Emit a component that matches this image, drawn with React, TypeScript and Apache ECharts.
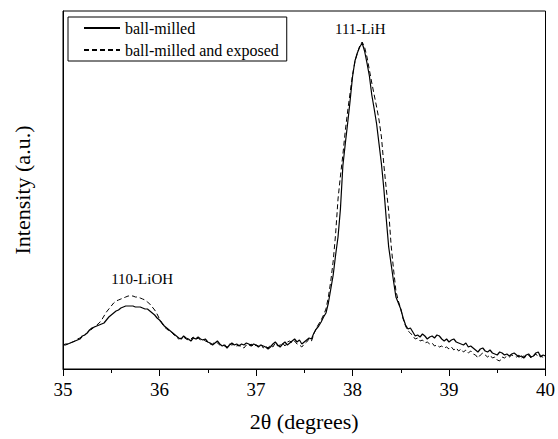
import React, { useEffect, useRef } from "react";
import * as echarts from "echarts";

// Scan grid: 2θ from 35° to 40° in 0.025° steps
const SCAN_START = 35;
const SCAN_STEP = 0.025;

// Intensity (a.u.) — as-milled sample
const ballMilled = [
  24, 24, 25, 26, 27, 28, 29, 30, 33, 34,
  36, 39, 41, 42, 43, 44, 45, 46, 49, 52,
  54, 56, 58, 59, 61, 62, 63, 63, 63, 63,
  62, 62, 62, 61, 60, 60, 58, 56, 54, 51,
  49, 46, 43, 41, 39, 37, 35, 33, 31, 30,
  33, 31, 30, 28, 31, 30, 32, 30, 29, 30,
  27, 26, 24, 26, 28, 25, 23, 24, 21, 24,
  26, 24, 25, 23, 25, 24, 26, 25, 23, 25,
  24, 22, 24, 23, 22, 20, 22, 25, 27, 24,
  22, 25, 27, 24, 26, 28, 30, 27, 29, 25,
  27, 29, 31, 30, 36, 40, 43, 47, 52, 56,
  66, 80, 94, 114, 132, 160, 203, 225, 246, 268,
  292, 308, 316, 322, 326, 318, 306, 293, 274, 260,
  245, 225, 205, 180, 150, 122, 105, 88, 72, 66,
  60, 51, 44, 40, 41, 37, 33, 34, 32, 35,
  33, 30, 32, 33, 31, 34, 33, 30, 28, 30,
  27, 29, 30, 27, 26, 25, 24, 26, 22, 23,
  21, 19, 17, 20, 21, 18, 17, 19, 16, 15,
  14, 17, 16, 14, 15, 13, 15, 16, 14, 12,
  13, 11, 14, 15, 12, 13, 16, 17, 12, 14,
  13,
];

// Intensity (a.u.) — milled then exposed
const ballMilledExposed = [
  24, 25, 25, 26, 27, 28, 30, 31, 32, 34,
  36, 38, 40, 42, 44, 46, 49, 53, 57, 60,
  63, 66, 68, 69, 70, 71, 72, 73, 73, 73,
  72, 72, 71, 70, 69, 67, 65, 62, 59, 55,
  50, 46, 42, 40, 38, 37, 34, 32, 30, 31,
  32, 30, 29, 30, 32, 29, 31, 29, 30, 28,
  27, 25, 25, 27, 26, 24, 25, 23, 22, 25,
  24, 25, 23, 24, 22, 21, 24, 23, 25, 22,
  24, 23, 25, 21, 23, 21, 24, 22, 26, 23,
  24, 26, 23, 27, 28, 26, 28, 25, 24, 22,
  25, 27, 30, 28, 35, 41, 45, 49, 54, 60,
  72, 88, 108, 135, 170, 193, 214, 238, 258, 276,
  294, 307, 316, 323, 327, 322, 312, 299, 286, 274,
  262, 249, 232, 204, 180, 158, 124, 100, 78, 68,
  60, 50, 43, 38, 36, 33, 30, 31, 28, 29,
  26, 27, 25, 26, 23, 24, 22, 23, 21, 22,
  20, 22, 19, 21, 18, 20, 17, 19, 16, 18,
  15, 14, 11, 14, 16, 14, 12, 14, 11, 12,
  9, 8, 12, 11, 13, 12, 14, 13, 12, 14,
  11, 13, 12, 14, 11, 13, 15, 12, 14, 11,
  13,
];

const seriesNames = ["ball-milled", "ball-milled and exposed"];

// Reflection labels: [text, 2θ, intensity]
const reflections: [string, number, number][] = [
  ["110-LiOH", 35.82, 90],
  ["111-LiH", 38.08, 340],
];

const FONT = "Liberation Serif";

const toPairs = (vals: number[]) =>
  vals.map((v, i) => [+(SCAN_START + i * SCAN_STEP).toFixed(3), v]);

export default function App() {
  const ref = useRef<HTMLDivElement>(null);

  useEffect(() => {
    if (!ref.current) return;
    const chart = echarts.init(ref.current, undefined, { renderer: "svg" });

    chart.setOption({
      animation: false,
      backgroundColor: "#fff",
      textStyle: { fontFamily: FONT, color: "#000" },
      grid: {
        left: 63,
        right: 11,
        top: 11,
        bottom: 70,
        show: true,
        borderColor: "#000",
        borderWidth: 1,
        backgroundColor: "transparent",
      },
      legend: {
        data: seriesNames,
        orient: "vertical",
        left: 68,
        top: 17,
        itemWidth: 36,
        itemHeight: 14,
        itemGap: 6,
        padding: [3, 8, 3, 15],
        borderColor: "#000",
        borderWidth: 1,
        itemStyle: { opacity: 0, borderWidth: 0 },
        textStyle: { fontFamily: FONT, fontSize: 16, color: "#000" },
      },
      xAxis: {
        type: "value",
        min: 35,
        max: 40,
        interval: 1,
        name: "2θ (degrees)",
        nameLocation: "middle",
        nameGap: 41,
        nameTextStyle: { fontFamily: FONT, fontSize: 22, color: "#000" },
        axisLine: { lineStyle: { color: "#000", width: 1 } },
        axisTick: { show: true, length: 7, lineStyle: { color: "#000" } },
        minorTick: { show: true, splitNumber: 2, length: 4, lineStyle: { color: "#000" } },
        axisLabel: { fontFamily: FONT, fontSize: 19, color: "#000", margin: 11 },
        splitLine: { show: false },
      },
      yAxis: {
        type: "value",
        min: 0,
        max: 358,
        name: "Intensity (a.u.)",
        nameLocation: "middle",
        nameGap: 30,
        nameTextStyle: { fontFamily: FONT, fontSize: 22, color: "#000" },
        axisLine: { show: true, lineStyle: { color: "#000", width: 1 } },
        axisTick: { show: false },
        axisLabel: { show: false },
        splitLine: { show: false },
      },
      series: [
        {
          name: seriesNames[0],
          type: "line",
          data: toPairs(ballMilled),
          symbol: "none",
          color: "#000",
          lineStyle: { color: "#000", width: 1.2, type: "solid" },
          z: 3,
          markPoint: {
            symbol: "circle",
            symbolSize: 0,
            silent: true,
            label: {
              show: true,
              position: "inside",
              fontFamily: FONT,
              fontSize: 15,
              color: "#000",
              formatter: (p: any) => p.name,
            },
            data: reflections.map(([text, x, y]) => ({ name: text, coord: [x, y] })),
          },
        },
        {
          name: seriesNames[1],
          type: "line",
          data: toPairs(ballMilledExposed),
          symbol: "none",
          color: "#000",
          lineStyle: { color: "#000", width: 1, type: [5, 3] },
          z: 2,
        },
      ],
    });

    return () => chart.dispose();
  }, []);

  return (
    <div
      ref={ref}
      style={{ position: "fixed", left: 0, top: 0, width: 558, height: 439 }}
    />
  );
}
